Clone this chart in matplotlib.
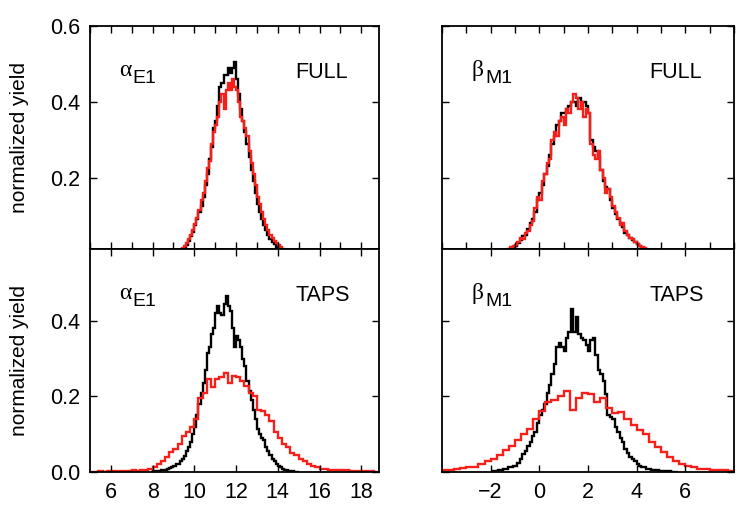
import matplotlib
matplotlib.use("Agg")
import matplotlib.pyplot as plt
import numpy as np
from matplotlib.ticker import MultipleLocator

plt.rcParams["font.family"] = ["Liberation Sans", "DejaVu Sans"]

# ---- data: normalized yields per bin (start, width, values) ----
# alpha_E1, FULL
a_full_black_start, a_full_black_w = 9.3, 0.1
a_full_black = [0.004, 0.008, 0.014, 0.022, 0.032, 0.045, 0.058, 0.075, 0.09, 0.11,
                0.125, 0.15, 0.18, 0.21, 0.25, 0.28, 0.33, 0.35, 0.39, 0.44,
                0.45, 0.47, 0.47, 0.49, 0.475, 0.49, 0.505, 0.46, 0.42, 0.38,
                0.35, 0.32, 0.29, 0.255, 0.22, 0.19, 0.16, 0.13, 0.11, 0.09,
                0.075, 0.062, 0.05, 0.038, 0.03, 0.024, 0.018, 0.012, 0.008, 0.004]
a_full_red_start, a_full_red_w = 9.2, 0.1
a_full_red = [0.004, 0.008, 0.014, 0.02, 0.028, 0.038, 0.05, 0.062, 0.078, 0.095,
              0.115, 0.14, 0.16, 0.19, 0.225, 0.245, 0.29, 0.32, 0.34, 0.36,
              0.40, 0.42, 0.38, 0.43, 0.45, 0.43, 0.46, 0.44, 0.43, 0.40,
              0.36, 0.35, 0.33, 0.31, 0.27, 0.24, 0.21, 0.18, 0.15, 0.13,
              0.11, 0.09, 0.075, 0.062, 0.05, 0.042, 0.034, 0.027, 0.022, 0.016,
              0.011, 0.007, 0.004]

# beta_M1, FULL
b_full_black_start, b_full_black_w = -1.3, 0.1
b_full_black = [0.006, 0.01, 0.015, 0.02, 0.028, 0.035, 0.045, 0.05, 0.065, 0.08,
                0.09, 0.11, 0.14, 0.16, 0.18, 0.21, 0.23, 0.26, 0.29, 0.31,
                0.34, 0.35, 0.37, 0.37, 0.38, 0.39, 0.40, 0.40, 0.39, 0.41,
                0.40, 0.40, 0.39, 0.37, 0.30, 0.28, 0.27, 0.255, 0.22, 0.19,
                0.175, 0.17, 0.14, 0.12, 0.105, 0.09, 0.08, 0.07, 0.055, 0.05,
                0.04, 0.035, 0.03, 0.025, 0.02, 0.015, 0.012, 0.008, 0.004]
b_full_red_start, b_full_red_w = -1.5, 0.1
b_full_red = [0.004, 0.008, 0.012, 0.016, 0.02, 0.022, 0.03, 0.04, 0.038, 0.055,
              0.06, 0.075, 0.085, 0.12, 0.15, 0.14, 0.19, 0.21, 0.24, 0.25,
              0.30, 0.32, 0.31, 0.35, 0.36, 0.34, 0.38, 0.37, 0.40, 0.42,
              0.41, 0.38, 0.40, 0.36, 0.38, 0.37, 0.29, 0.26, 0.25, 0.27,
              0.22, 0.20, 0.16, 0.17, 0.15, 0.125, 0.11, 0.095, 0.075, 0.08,
              0.06, 0.05, 0.04, 0.038, 0.03, 0.024, 0.02, 0.018, 0.014, 0.01,
              0.007, 0.004]

# alpha_E1, TAPS
a_taps_black_start, a_taps_black_w = 7.9, 0.1
a_taps_black = [0.001, 0.002, 0.002, 0.003, 0.003, 0.004, 0.005, 0.006, 0.008, 0.01,
                0.012, 0.015, 0.02, 0.022, 0.028, 0.034, 0.042, 0.055, 0.065, 0.08,
                0.10, 0.12, 0.15, 0.18, 0.21, 0.235, 0.27, 0.315, 0.33, 0.365,
                0.38, 0.42, 0.44, 0.42, 0.415, 0.445, 0.465, 0.44, 0.425, 0.38,
                0.33, 0.36, 0.35, 0.33, 0.30, 0.28, 0.24, 0.215, 0.19, 0.165,
                0.14, 0.115, 0.10, 0.09, 0.085, 0.065, 0.055, 0.045, 0.035, 0.028,
                0.022, 0.016, 0.012, 0.008, 0.006, 0.004, 0.003, 0.002, 0.002, 0.001,
                0.001]
a_taps_red_start, a_taps_red_w = 5.0, 0.2
a_taps_red = [0.001, 0.001, 0.002, 0.001, 0.002, 0.002, 0.002, 0.003, 0.002, 0.003,
              0.004, 0.003, 0.005, 0.004, 0.007, 0.012, 0.022, 0.03, 0.04, 0.052,
              0.06, 0.075, 0.095, 0.105, 0.12, 0.14, 0.195, 0.21, 0.245, 0.225,
              0.245, 0.25, 0.262, 0.235, 0.255, 0.25, 0.24, 0.228, 0.21, 0.20,
              0.165, 0.16, 0.15, 0.135, 0.105, 0.09, 0.075, 0.065, 0.05, 0.045,
              0.035, 0.028, 0.02, 0.016, 0.012, 0.009, 0.008, 0.006, 0.005, 0.006,
              0.004, 0.004, 0.003, 0.003, 0.002, 0.003, 0.002, 0.002, 0.001]

# beta_M1, TAPS
b_taps_black_start, b_taps_black_w = -2.0, 0.1
b_taps_black = [0.002, 0.002, 0.003, 0.004, 0.006, 0.007, 0.009, 0.012, 0.012, 0.015,
                0.017, 0.025, 0.035, 0.048, 0.055, 0.07, 0.08, 0.095, 0.105, 0.13,
                0.15, 0.165, 0.18, 0.21, 0.23, 0.26, 0.285, 0.33, 0.34, 0.33,
                0.32, 0.355, 0.37, 0.43, 0.37, 0.41, 0.365, 0.355, 0.35, 0.335,
                0.32, 0.35, 0.355, 0.31, 0.27, 0.26, 0.24, 0.205, 0.15, 0.145,
                0.14, 0.12, 0.105, 0.09, 0.08, 0.06, 0.05, 0.04, 0.035, 0.028,
                0.022, 0.016, 0.014, 0.012, 0.009, 0.008, 0.006, 0.005, 0.004, 0.003,
                0.003, 0.002, 0.002, 0.002, 0.001, 0.001, 0.001]
b_taps_red_start, b_taps_red_w = -4.0, 0.25
b_taps_red = [0.004, 0.006, 0.007, 0.01, 0.012, 0.013, 0.022, 0.03, 0.035, 0.045,
              0.058, 0.07, 0.085, 0.10, 0.115, 0.14, 0.16, 0.185, 0.19, 0.20,
              0.215, 0.165, 0.195, 0.21, 0.205, 0.185, 0.195, 0.17, 0.155, 0.158,
              0.14, 0.125, 0.112, 0.10, 0.08, 0.065, 0.052, 0.04, 0.03, 0.022,
              0.016, 0.012, 0.009, 0.007, 0.006, 0.005, 0.004, 0.003]

BLACK, RED = "#000000", "#f5201a"


def draw(ax, start, width, values, color):
    values = np.asarray(values)
    edges = start + width * np.arange(len(values) + 1)
    ax.stairs(values, edges, color=color, linewidth=1.7, baseline=None)


def label(ax, greek, sub, tag):
    ax.text(0.10, 0.775, greek, transform=ax.transAxes, fontsize=17,
            family=["Liberation Serif", "DejaVu Serif"], va="baseline")
    ax.text(0.148, 0.745, sub, transform=ax.transAxes, fontsize=14, va="baseline")
    ax.text(0.71, 0.765, tag, transform=ax.transAxes, fontsize=15.5, va="baseline")


fig = plt.figure(figsize=(7.5, 5.25), dpi=100)
ax_tl = fig.add_axes([0.12, 0.5257, 0.3853, 0.4248])
ax_tr = fig.add_axes([0.5893, 0.5257, 0.3893, 0.4248])
ax_bl = fig.add_axes([0.12, 0.101, 0.3853, 0.4248])
ax_br = fig.add_axes([0.5893, 0.101, 0.3893, 0.4248])

draw(ax_tl, a_full_black_start, a_full_black_w, a_full_black, BLACK)
draw(ax_tl, a_full_red_start, a_full_red_w, a_full_red, RED)
draw(ax_tr, b_full_black_start, b_full_black_w, b_full_black, BLACK)
draw(ax_tr, b_full_red_start, b_full_red_w, b_full_red, RED)
draw(ax_bl, a_taps_black_start, a_taps_black_w, a_taps_black, BLACK)
draw(ax_bl, a_taps_red_start, a_taps_red_w, a_taps_red, RED)
draw(ax_br, b_taps_black_start, b_taps_black_w, b_taps_black, BLACK)
draw(ax_br, b_taps_red_start, b_taps_red_w, b_taps_red, RED)

label(ax_tl, "α", "E1", "FULL")
label(ax_tr, "β", "M1", "FULL")
label(ax_bl, "α", "E1", "TAPS")
label(ax_br, "β", "M1", "TAPS")

for ax in (ax_tl, ax_bl):
    ax.set_xlim(5.0, 18.85)
for ax in (ax_tr, ax_br):
    ax.set_xlim(-4.0, 8.0)
for ax in (ax_tl, ax_tr):
    ax.set_ylim(0.012, 0.6)
    ax.set_yticks([0.2, 0.4, 0.6])
    ax.xaxis.set_major_locator(MultipleLocator(1))
    ax.tick_params(axis="x", labelbottom=False)
for ax in (ax_bl, ax_br):
    ax.set_ylim(0.0, 0.59)
    ax.set_yticks([0.0, 0.2, 0.4])
ax_br.set_xticks([-2, 0, 2, 4, 6])
ax_bl.set_xticks([6, 8, 10, 12, 14, 16, 18])

for ax in (ax_tl, ax_tr, ax_bl, ax_br):
    ax.tick_params(direction="in", top=True, right=True, length=5, width=1,
                   labelsize=15.5, pad=7)
    for sp in ax.spines.values():
        sp.set_linewidth(1.3)
for ax in (ax_tr, ax_br):
    ax.tick_params(axis="y", labelleft=False)

for ax in (ax_tl, ax_bl):
    ax.yaxis.set_major_formatter(plt.FormatStrFormatter("%.1f"))
    ax.set_ylabel("normalized yield", fontsize=15)
    ax.yaxis.set_label_coords(-0.21, 0.5)

fig.savefig("out.png", dpi=100)
